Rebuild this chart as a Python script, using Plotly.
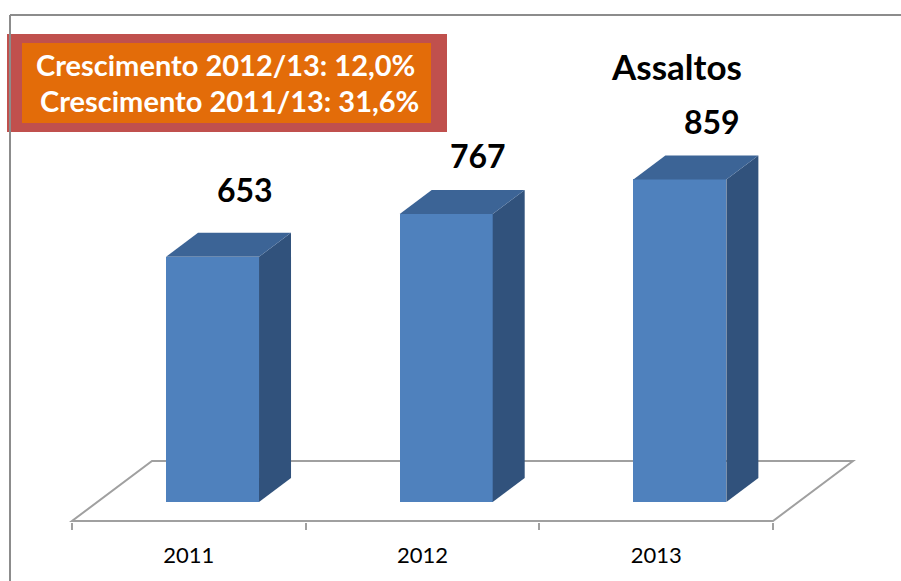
import plotly.graph_objects as go

# ---- data ----
years = ["2011", "2012", "2013"]
assaltos = [653, 767, 859]
title_text = "Assaltos"
box_lines = ["Crescimento 2012/13: 12,0%", " Crescimento 2011/13: 31,6%"]

# ---- geometry / style (pixels) ----
W, H = 901, 581
PL, PR, PT, PB = 10, 901, 15, 522          # plot area in pixels
X0PX, CATPX = 72, 701 / 3                  # pixel of x=-0.5, pixels per category
Y0PX, KPX = 502, 0.3755                    # pixel of value 0, pixels per unit
BAR_SHIFT_PX, BAR_W_PX = 23.7, 93
DEPTH_DX, DEPTH_DY = 32, 24
FLOOR_FRONT_PX, FLOOR_BACK_PX, FLOOR_DX = 521, 461, 80
LABEL_SHIFT = [43, 34, 34]

FRONT, SIDE, TOP = "#4F81BD", "#31527C", "#3C6496"
GRAY = "#A0A0A0"


def xv(px):
    return -0.5 + (px - X0PX) / CATPX


def yv(px):
    return (Y0PX - px) / KPX


def dxu(px):
    return px / CATPX


def dyu(px):
    return px / KPX


def paper_x(px):
    return (px - PL) / (PR - PL)


def paper_y(px):
    return (PB - px) / (PB - PT)


fig = go.Figure()

# floor (below traces)
fy0, fy1 = yv(FLOOR_FRONT_PX), yv(FLOOR_BACK_PX)
fx0, fx1 = -0.5, len(years) - 0.5
fdx = dxu(FLOOR_DX)
floor_path = (f"M {fx0},{fy0} L {fx1},{fy0} L {fx1 + fdx},{fy1} "
              f"L {fx0 + fdx},{fy1} Z")
fig.add_shape(type="path", path=floor_path, xref="x", yref="y",
              line=dict(color=GRAY, width=2), layer="below")

bshift = dxu(BAR_SHIFT_PX)
bw = dxu(BAR_W_PX)
ddx, ddy = dxu(DEPTH_DX), dyu(DEPTH_DY)
xs = [i + bshift for i in range(len(years))]

fig.add_trace(go.Bar(x=xs, y=assaltos, width=bw, base=0,
                     marker=dict(color=FRONT, line=dict(width=0)),
                     showlegend=False, hoverinfo="skip"))

for x, v in zip(xs, assaltos):
    xl, xr = x - bw / 2, x + bw / 2
    fig.add_trace(go.Scatter(
        x=[xr, xr + ddx, xr + ddx, xr, xr],
        y=[0, ddy, v + ddy, v, 0],
        fill="toself", fillcolor=SIDE, mode="lines",
        line=dict(width=0, color=SIDE), showlegend=False, hoverinfo="skip"))
    fig.add_trace(go.Scatter(
        x=[xl, xl + ddx, xr + ddx, xr, xl],
        y=[v, v + ddy, v + ddy, v, v],
        fill="toself", fillcolor=TOP, mode="lines",
        line=dict(width=0, color=TOP), showlegend=False, hoverinfo="skip"))

# value labels
for x, v, s in zip(xs, assaltos, LABEL_SHIFT):
    fig.add_annotation(x=x + ddx, y=v + ddy, text=f"<b>{v}</b>",
                       showarrow=False, yanchor="middle", yshift=s,
                       font=dict(family="Lato", size=32, color="black"))

# title
fig.add_annotation(xref="paper", yref="paper", x=paper_x(676), y=paper_y(66),
                   text=f"<b>{title_text}</b>", showarrow=False,
                   xanchor="center", yanchor="middle",
                   font=dict(family="Lato", size=35, color="black"))

# growth box
fig.add_shape(type="rect", xref="paper", yref="paper",
              x0=paper_x(7), x1=paper_x(447), y0=paper_y(132), y1=paper_y(34),
              fillcolor="#C0504D", line=dict(width=0))
fig.add_shape(type="rect", xref="paper", yref="paper",
              x0=paper_x(22), x1=paper_x(431), y0=paper_y(123), y1=paper_y(43),
              fillcolor="#E36C09", line=dict(width=0))
for txt, cx, cy in zip(box_lines, [225, 229], [65, 101]):
    fig.add_annotation(xref="paper", yref="paper", x=paper_x(cx), y=paper_y(cy),
                       text=f"<b>{txt.strip()}</b>", showarrow=False,
                       xanchor="center", yanchor="middle",
                       font=dict(family="Lato", size=29, color="white"))

# chart frame
fig.add_shape(type="line", xref="paper", yref="paper",
              x0=0, y0=paper_y(15), x1=1, y1=paper_y(15),
              line=dict(color="#8C8C8C", width=2))
fig.add_shape(type="line", xref="paper", yref="paper",
              x0=0, y0=paper_y(15), x1=0, y1=paper_y(H + 5),
              line=dict(color="#8C8C8C", width=2))

fig.update_layout(
    width=W, height=H,
    margin=dict(l=PL, r=W - PR, t=PT, b=H - PB, pad=0),
    plot_bgcolor="white", paper_bgcolor="white",
    showlegend=False,
    xaxis=dict(range=[xv(PL), xv(PR)], tickmode="array",
               tickvals=list(range(len(years))), ticktext=years,
               ticks="", showgrid=False, zeroline=False, showline=False,
               ticklabelstandoff=18,
               tickfont=dict(family="Lato", size=22, color="black"),
               minor=dict(tickmode="array",
                          tickvals=[i - 0.5 for i in range(len(years) + 1)],
                          ticks="outside", ticklen=7, tickwidth=2,
                          tickcolor=GRAY, showgrid=False),
               fixedrange=True),
    yaxis=dict(range=[yv(PB), yv(PT)], visible=False, showgrid=False,
               zeroline=False, fixedrange=True),
    bargap=0,
)

fig.write_html("out.html", config={"displayModeBar": False},
               post_script="document.body.style.margin='0';"
                           "document.body.style.overflow='hidden';")
